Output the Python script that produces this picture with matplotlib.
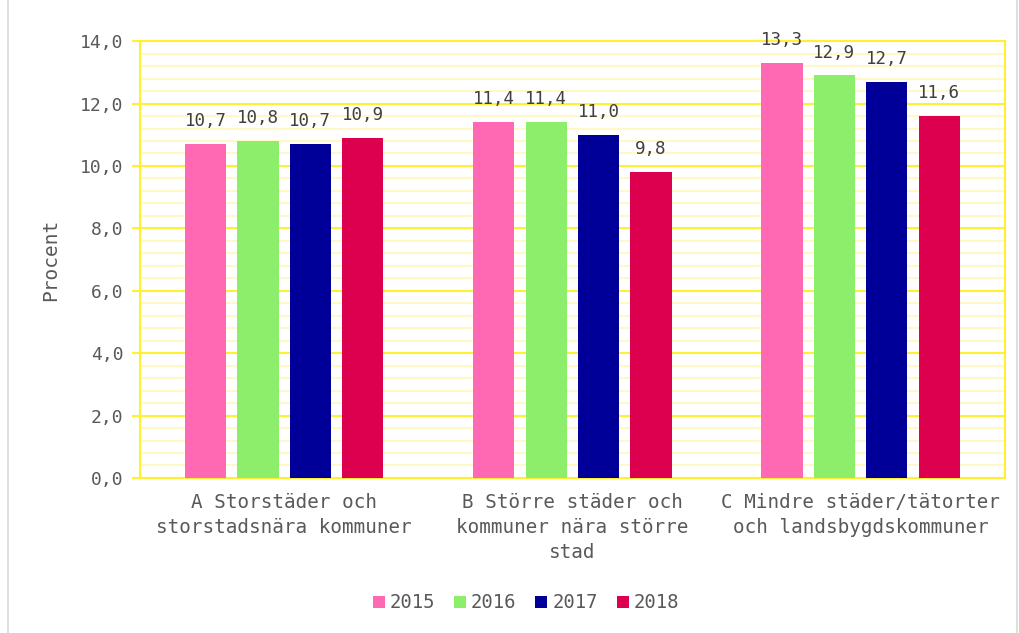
import matplotlib
matplotlib.use("Agg")
import matplotlib.pyplot as plt
import numpy as np
from matplotlib.patches import Rectangle
from matplotlib.ticker import FuncFormatter, MultipleLocator

categories = ["A Storstäder och\nstorstadsnära kommuner",
              "B Större städer och\nkommuner nära större\nstad",
              "C Mindre städer/tätorter\noch landsbygdskommuner"]
years = ["2015", "2016", "2017", "2018"]
values = {
    "2015": [10.7, 11.4, 13.3],
    "2016": [10.8, 11.4, 12.9],
    "2017": [10.7, 11.0, 12.7],
    "2018": [10.9, 9.8, 11.6],
}
colors = ["#FF69B4", "#8CEE6A", "#000099", "#DC004E"]

TEXT = "#595959"
GRID = "#FFF033"
MINOR = "#FFF9C8"

plt.rcParams["font.family"] = ["DejaVu Sans Mono"]

fig = plt.figure(figsize=(10.19, 6.33), dpi=100)
ax = fig.add_axes([0.1374, 0.2449, 0.8486, 0.6901])

x = np.arange(len(categories))
width = 0.143
pitch = 0.182
for i, (yr, col) in enumerate(zip(years, colors)):
    pos = x + (i - 1.5) * pitch
    bars = ax.bar(pos, values[yr], width, color=col, label=yr, zorder=3)
    for b, v in zip(bars, values[yr]):
        ax.annotate(f"{v:.1f}".replace(".", ","),
                    (b.get_x() + b.get_width() / 2, v),
                    xytext=(0, 10), textcoords="offset points",
                    ha="center", va="bottom", fontsize=12.6, color="#404040")

ax.set_xlim(-0.5, 2.5)
ax.set_ylim(0, 14)
ax.yaxis.set_major_locator(MultipleLocator(2))
ax.yaxis.set_minor_locator(MultipleLocator(0.4))
ax.yaxis.set_major_formatter(FuncFormatter(lambda v, p: f"{v:.1f}".replace(".", ",")))
ax.grid(axis="y", which="major", color=GRID, linewidth=1.5, zorder=1)
ax.grid(axis="y", which="minor", color=MINOR, linewidth=1.5, zorder=0)
ax.tick_params(axis="y", which="major", length=6, color=GRID, width=1.5,
               labelsize=13, labelcolor=TEXT, pad=6)
ax.tick_params(axis="y", which="minor", length=0)
ax.set_xticks(x)
ax.set_xticklabels(categories, fontsize=13.9, color=TEXT, linespacing=1.38)
ax.tick_params(axis="x", length=0, pad=11)
for s in ax.spines.values():
    s.set_color(GRID)
    s.set_linewidth(1.5)
ax.set_ylabel("Procent", fontsize=14, color=TEXT, labelpad=14)

leg = ax.legend(loc="center", bbox_to_anchor=(526 / 1019, 1 - 603 / 633),
                bbox_transform=fig.transFigure, ncol=4, frameon=False,
                fontsize=13.6, handlelength=0.63, handleheight=0.63,
                handletextpad=0.27, columnspacing=1.0, labelcolor=TEXT)

fig.patches.append(Rectangle((8 / 1019, -0.01), 1 - 9 / 1019 - 0.001, 1.02,
                             transform=fig.transFigure, fill=False,
                             edgecolor="#D9D9D9", linewidth=1.2))

fig.savefig("out.png", dpi=100)
